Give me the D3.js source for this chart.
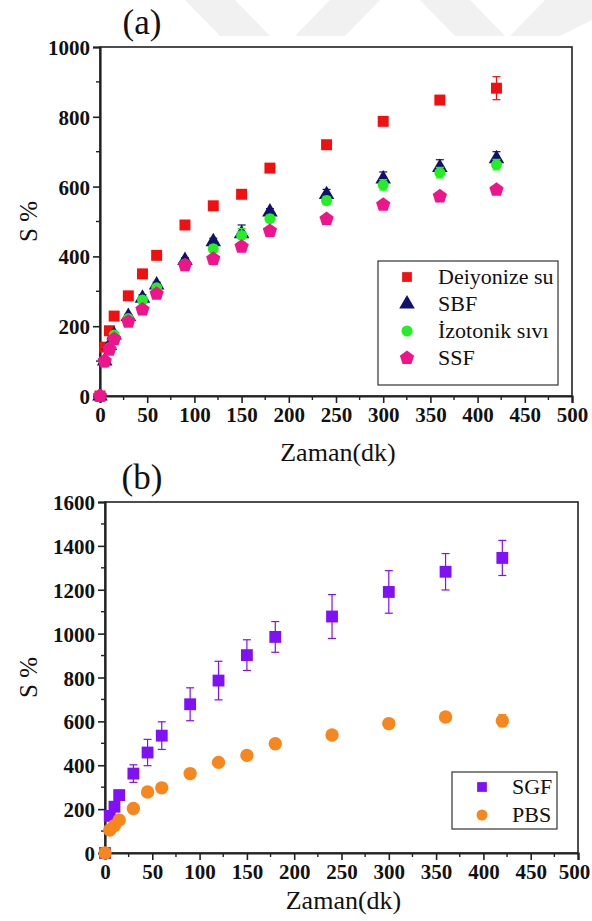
<!DOCTYPE html>
<html>
<head>
<meta charset="utf-8">
<script src="https://cdn.jsdelivr.net/npm/d3@7"></script>
<style>
  body { margin: 0; background: #fff; }
  svg text { font-family: "Liberation Serif", "Times New Roman", Times, "DejaVu Serif", serif; }
</style>
</head>
<body>
<div id="chart"></div>
<script>
// time points (dk)
const times = [0, 5, 10, 15, 30, 45, 60, 90, 120, 150, 180, 240, 300, 360, 420];

// panel (a)
const deiyonize = [0, 140, 187, 229, 287, 350, 403, 490, 545, 578, 653, 720, 787, 848, 882];
const deiyonizeErr = [0, 4, 5, 5, 6, 10, 6, 6, 8, 8, 8, 8, 8, 8, 33];
const sbf = [0, 100, 145, 175, 228, 280, 318, 388, 442, 465, 527, 577, 622, 655, 680];
const sbfErr = [0, 6, 6, 6, 6, 10, 8, 8, 10, 25, 10, 15, 20, 22, 20];
const izotonik = [0, 95, 138, 175, 222, 275, 310, 378, 422, 460, 508, 560, 605, 640, 663];
const izotonikErr = [0, 5, 5, 5, 6, 8, 8, 8, 10, 20, 10, 12, 15, 15, 15];
const ssf = [0, 100, 133, 163, 213, 248, 293, 375, 393, 428, 473, 507, 548, 572, 591];
const ssfErr = [0, 4, 4, 4, 5, 5, 5, 5, 6, 6, 6, 8, 12, 10, 6];

// panel (b)
const sgf = [0, 169, 211, 264, 362, 458, 535, 678, 786, 902, 985, 1078, 1190, 1282, 1345];
const sgfErr = [0, 10, 12, 15, 40, 60, 63, 75, 88, 70, 70, 100, 97, 83, 80];
const pbs = [0, 105, 125, 150, 203, 278, 297, 362, 413, 445, 498, 538, 590, 620, 603];
const pbsErr = [0, 4, 4, 4, 4, 5, 5, 5, 6, 6, 6, 8, 8, 10, 28];

const xTicks = [0, 50, 100, 150, 200, 250, 300, 350, 400, 450, 500];

const serif = "'Liberation Serif', 'Times New Roman', Times, 'DejaVu Serif', serif";
const width = 592, height = 921;

const svg = d3.select("#chart").append("svg")
    .attr("width", width)
    .attr("height", height)
    .attr("font-family", serif);

// faint watermark bands at the top
const wm = svg.append("g").attr("fill", "#f1f1f1");
[[185, 0, 235, 0, 270, 36, 220, 36], [330, 0, 380, 0, 345, 36, 295, 36],
 [420, 0, 470, 0, 505, 36, 455, 36], [545, 0, 592, 0, 592, 20, 560, 36, 510, 36]]
  .forEach(p => {
    const pts = [];
    for (let i = 0; i < p.length; i += 2) pts.push([p[i], p[i + 1]]);
    wm.append("polygon").attr("points", pts.map(d => d.join(",")).join(" "));
  });

function pentagon(r) {
  const pts = d3.range(5).map(i => {
    const a = -Math.PI / 2 + i * 2 * Math.PI / 5;
    return [r * Math.cos(a), r * Math.sin(a)];
  });
  return "M" + pts.map(p => p.join(",")).join("L") + "Z";
}

const shapes = {
  square: d3.symbol(d3.symbolSquare, 120)(),
  triangle: d3.symbol(d3.symbolTriangle, 105)(),
  circle: d3.symbol(d3.symbolCircle, 95)(),
  bigcircle: d3.symbol(d3.symbolCircle, 140)(),
  bigsquare: d3.symbol(d3.symbolSquare, 140)(),
  legsquare: d3.symbol(d3.symbolSquare, 95)(),
  legcircle: d3.symbol(d3.symbolCircle, 95)(),
  pentagon: pentagon(7.5)
};

function drawPanel(cfg) {
  const g = svg.append("g");
  const x = d3.scaleLinear().domain([0, 500]).range([cfg.left, cfg.right]);
  const y = d3.scaleLinear().domain([0, cfg.yMax]).range([cfg.bottom, cfg.top]);

  // frame
  g.append("rect")
    .attr("x", cfg.left).attr("y", cfg.top)
    .attr("width", cfg.right - cfg.left).attr("height", cfg.bottom - cfg.top)
    .attr("fill", "none").attr("stroke", "#222").attr("stroke-width", 1.6);

  // minor ticks
  const minorX = d3.range(25, 500, 50);
  g.append("g").selectAll("line").data(minorX).join("line")
    .attr("x1", d => x(d)).attr("x2", d => x(d))
    .attr("y1", cfg.bottom).attr("y2", cfg.bottom + 4)
    .attr("stroke", "#222").attr("stroke-width", 1.4);
  const minorY = d3.range(cfg.yStep / 2, cfg.yMax, cfg.yStep);
  g.append("g").selectAll("line").data(minorY).join("line")
    .attr("y1", d => y(d)).attr("y2", d => y(d))
    .attr("x1", cfg.left).attr("x2", cfg.left - 4)
    .attr("stroke", "#222").attr("stroke-width", 1.4);

  const xAxis = g.append("g")
    .attr("transform", `translate(0,${cfg.bottom})`)
    .call(d3.axisBottom(x).tickValues(xTicks).tickFormat(d3.format("d")).tickSize(7).tickPadding(4));
  const yAxis = g.append("g")
    .attr("transform", `translate(${cfg.left},0)`)
    .call(d3.axisLeft(y).tickValues(d3.range(0, cfg.yMax + 1, cfg.yStep))
      .tickFormat(d3.format("d")).tickSize(7).tickPadding(3));

  [xAxis, yAxis].forEach(a => {
    a.attr("font-family", serif).attr("font-size", 21).attr("font-weight", "bold");
    a.select(".domain").attr("stroke", "#222").attr("stroke-width", 2.2);
    a.selectAll(".tick line").attr("stroke", "#222").attr("stroke-width", 1.6);
    a.selectAll("text").attr("fill", "#111");
  });
  yAxis.selectAll("text").attr("dy", "0.36em");
  // keep the last x label inside the page
  xAxis.selectAll(".tick text").filter(d => d === 500)
    .attr("dx", Math.min(0, width - 2 - cfg.right - 16));

  // axis titles
  g.append("text")
    .attr("x", (cfg.left + cfg.right) / 2 + 2)
    .attr("y", cfg.bottom + cfg.titleGap)
    .attr("text-anchor", "middle")
    .attr("font-size", 26)
    .attr("fill", "#111")
    .text("Zaman(dk)");
  g.append("text")
    .attr("transform", `translate(37,${(cfg.top + cfg.bottom) / 2}) rotate(-90)`)
    .attr("text-anchor", "middle")
    .attr("font-size", 25)
    .attr("fill", "#111")
    .text("S %");
  g.append("text")
    .attr("x", 142).attr("y", cfg.top - 13)
    .attr("text-anchor", "middle")
    .attr("font-size", 35)
    .attr("fill", "#111")
    .text(cfg.label);

  // series
  cfg.series.forEach(s => {
    const pts = times.map((t, i) => ({ t, v: s.values[i], e: s.err[i] }));
    const sg = g.append("g");
    const eb = sg.selectAll("g.err").data(pts.filter(d => d.e > 0)).join("g")
      .attr("stroke", s.color).attr("stroke-width", 1.2);
    eb.append("line")
      .attr("x1", d => x(d.t)).attr("x2", d => x(d.t))
      .attr("y1", d => y(d.v - d.e)).attr("y2", d => y(d.v + d.e));
    eb.append("line")
      .attr("x1", d => x(d.t) - 4).attr("x2", d => x(d.t) + 4)
      .attr("y1", d => y(d.v + d.e)).attr("y2", d => y(d.v + d.e));
    eb.append("line")
      .attr("x1", d => x(d.t) - 4).attr("x2", d => x(d.t) + 4)
      .attr("y1", d => y(d.v - d.e)).attr("y2", d => y(d.v - d.e));
    sg.selectAll("path").data(pts).join("path")
      .attr("d", shapes[s.shape])
      .attr("transform", d => `translate(${x(d.t)},${y(d.v)})`)
      .attr("fill", s.color);
  });

  // legend
  const lg = g.append("g");
  lg.append("rect")
    .attr("x", cfg.legend.x).attr("y", cfg.legend.y)
    .attr("width", cfg.legend.w).attr("height", cfg.legend.h)
    .attr("fill", "#fff").attr("stroke", "#333").attr("stroke-width", 1.2);
  cfg.series.forEach((s, i) => {
    const ly = cfg.legend.y + cfg.legend.first + i * cfg.legend.step;
    lg.append("path")
      .attr("d", shapes[s.legendShape || s.shape])
      .attr("transform", `translate(${cfg.legend.x + cfg.legend.sym},${ly})`)
      .attr("fill", s.color);
    lg.append("text")
      .attr("x", cfg.legend.x + cfg.legend.txt).attr("y", ly + 7)
      .attr("font-size", 22)
      .attr("fill", "#111")
      .text(s.name);
  });
}

drawPanel({
  label: "(a)",
  left: 100, right: 572, top: 47, bottom: 396, yMax: 1000, yStep: 200, titleGap: 65,
  series: [
    { name: "Deiyonize su", values: deiyonize, err: deiyonizeErr, color: "#f20f0f", shape: "square", legendShape: "legsquare" },
    { name: "SBF", values: sbf, err: sbfErr, color: "#10106e", shape: "triangle" },
    { name: "İzotonik sıvı", values: izotonik, err: izotonikErr, color: "#22f022", shape: "circle" },
    { name: "SSF", values: ssf, err: ssfErr, color: "#f0148c", shape: "pentagon" }
  ],
  legend: { x: 378, y: 261, w: 180, h: 124, first: 16, step: 27, sym: 29, txt: 60 }
});

drawPanel({
  label: "(b)",
  left: 105, right: 578, top: 502, bottom: 853, yMax: 1600, yStep: 200, titleGap: 56,
  series: [
    { name: "SGF", values: sgf, err: sgfErr, color: "#8010f5", shape: "bigsquare", legendShape: "legsquare" },
    { name: "PBS", values: pbs, err: pbsErr, color: "#f7861c", shape: "bigcircle", legendShape: "legcircle" }
  ],
  legend: { x: 452, y: 772, w: 105, h: 57, first: 15, step: 28, sym: 30, txt: 60 }
});
</script>
</body>
</html>
